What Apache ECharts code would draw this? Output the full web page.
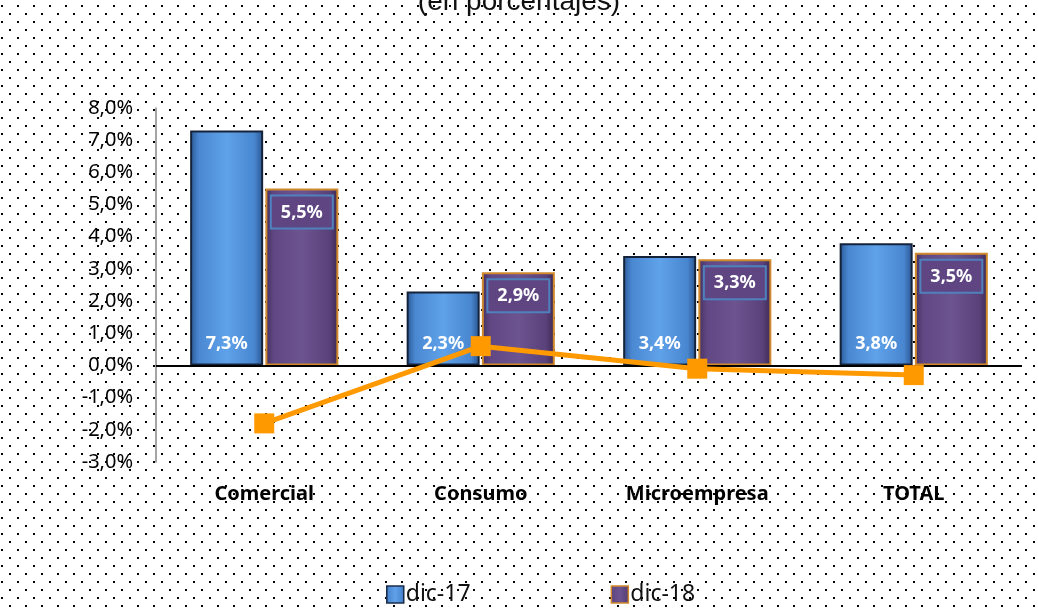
<!DOCTYPE html>
<html>
<head>
<meta charset="utf-8">
<script src="https://cdn.jsdelivr.net/npm/echarts@6/dist/echarts.min.js"></script>
<style>
html,body{margin:0;padding:0;background:#fff;}
#chart{width:1038px;height:608px;}
</style>
</head>
<body>
<div id="chart"></div>
<script>
// Data
const categories = ['Comercial', 'Consumo', 'Microempresa', 'TOTAL'];
const dic17 = [7.3, 2.3, 3.4, 3.8];
const dic18 = [5.5, 2.9, 3.3, 3.5];
const variation = [-1.8, 0.6, -0.1, -0.3];
const seriesNames = ['dic-17', 'dic-18'];
const subtitle = '(en porcentajes)';

const fmt = v => v.toFixed(1).replace('.', ',') + '%';

// dotted background pattern
const pc = document.createElement('canvas');
pc.width = 16; pc.height = 16;
const pctx = pc.getContext('2d');
pctx.fillStyle = '#000';
pctx.fillRect(9, 13, 2, 2);
pctx.fillRect(1, 5, 2, 2);

const blueFill = new echarts.graphic.LinearGradient(0, 0, 1, 0, [
  {offset: 0, color: '#2b5894'},
  {offset: 0.12, color: '#4a88d2'},
  {offset: 0.5, color: '#5fa2ea'},
  {offset: 0.88, color: '#4886d0'},
  {offset: 1, color: '#29548e'}
]);
const purpleFill = new echarts.graphic.LinearGradient(0, 0, 1, 0, [
  {offset: 0, color: '#45305f'},
  {offset: 0.12, color: '#614884'},
  {offset: 0.5, color: '#6c5490'},
  {offset: 0.88, color: '#5a417a'},
  {offset: 1, color: '#3b2852'}
]);

const chart = echarts.init(document.getElementById('chart'));
chart.setOption({
  backgroundColor: {image: pc, repeat: 'repeat'},
  animation: false,
  graphic: [{
    type: 'text',
    left: 'center',
    top: -12,
    style: {
      text: subtitle,
      font: '28px "Liberation Sans", Arial, sans-serif',
      fill: '#111'
    }
  }],
  legend: {
    data: [
      {name: seriesNames[0], itemStyle: {color: blueFill, borderColor: '#1b2d48', borderWidth: 1.5}},
      {name: seriesNames[1], itemStyle: {color: purpleFill, borderColor: '#d08a2c', borderWidth: 1.5}}
    ],
    left: 381,
    top: 578,
    itemWidth: 17,
    itemHeight: 17,
    itemGap: 140,
    icon: 'rect',
    textStyle: {fontFamily: 'Noto Sans', fontSize: 23, color: '#111', padding: [0, 0, 0, -3]}
  },
  grid: {left: 156, right: 16, top: 108, bottom: 146},
  xAxis: {
    type: 'category',
    data: categories,
    axisLine: {show: false, onZero: false},
    axisTick: {show: false},
    axisLabel: {
      margin: 22,
      fontFamily: 'Noto Sans',
      fontWeight: 'bold',
      fontSize: 20,
      color: '#000'
    }
  },
  yAxis: {
    type: 'value',
    min: -3,
    max: 8,
    interval: 1,
    axisLine: {show: true, lineStyle: {color: '#868686', width: 1.5}},
    axisTick: {show: false},
    splitLine: {show: false},
    axisLabel: {
      margin: 23,
      fontFamily: 'Noto Sans',
      fontSize: 20,
      color: '#000',
      formatter: v => fmt(v)
    }
  },
  series: [
    {
      name: seriesNames[0],
      type: 'bar',
      data: dic17,
      barWidth: 73,
      barGap: '3%',
      itemStyle: {color: blueFill, borderColor: '#14233a', borderWidth: 2},
      label: {
        show: true,
        position: 'insideBottom',
        distance: 13,
        color: '#fff',
        fontFamily: 'Noto Sans',
        fontWeight: 'bold',
        fontSize: 18,
        formatter: p => fmt(p.value)
      },
      markLine: {
        silent: true,
        symbol: 'none',
        label: {show: false},
        lineStyle: {color: '#000', width: 2, type: 'solid'},
        data: [{yAxis: 0}],
        z: 5
      }
    },
    {
      name: seriesNames[1],
      type: 'bar',
      data: dic18,
      barWidth: 73,
      itemStyle: {color: purpleFill, borderColor: '#d08a2c', borderWidth: 2},
      label: {
        show: true,
        position: 'insideTop',
        distance: 8,
        color: '#fff',
        fontFamily: 'Noto Sans',
        fontWeight: 'bold',
        fontSize: 18,
        backgroundColor: '#5f4682',
        borderColor: '#4f81bd',
        borderWidth: 2,
        padding: [7, 9, 6, 9],
        formatter: p => fmt(p.value)
      }
    },
    {
      name: 'variacion',
      type: 'line',
      data: variation,
      symbol: 'rect',
      symbolSize: 20,
      z: 10,
      lineStyle: {color: '#ff9900', width: 5},
      itemStyle: {color: '#ff9900'}
    }
  ]
});
</script>
</body>
</html>
